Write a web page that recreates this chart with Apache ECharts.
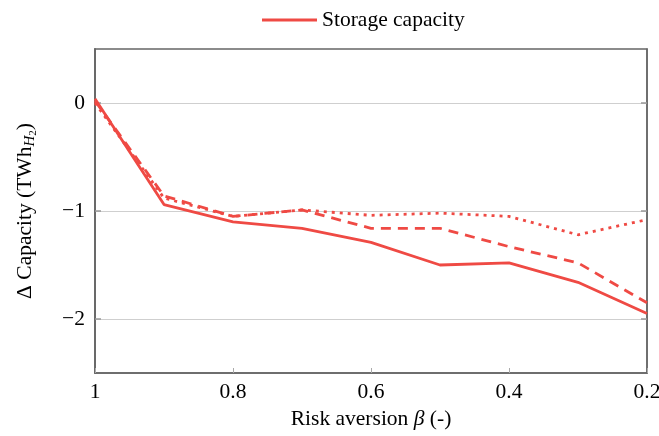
<!DOCTYPE html>
<html><head><meta charset="utf-8">
<script src="https://cdn.jsdelivr.net/npm/echarts@6/dist/echarts.min.js"></script>
<style>html,body{margin:0;padding:0;background:#fff}#c{width:659px;height:436px}</style>
</head><body><div id="c"></div>
<script>
const beta = [1, 0.9, 0.8, 0.7, 0.6, 0.5, 0.4, 0.3, 0.2];
const solid = [0.04, -0.94, -1.10, -1.16, -1.29, -1.50, -1.48, -1.66, -1.95];
const dashed = [0.02, -0.86, -1.05, -0.99, -1.16, -1.16, -1.33, -1.48, -1.85];
const dotted = [0.00, -0.88, -1.05, -0.99, -1.04, -1.02, -1.05, -1.22, -1.08];
const xTicks = [1, 0.8, 0.6, 0.4, 0.2];
const yTicks = [0, -1, -2];
const red = '#ef4a44';
const font = '"Liberation Serif", "DejaVu Serif", serif';
const pair = (a) => beta.map((b, i) => [b, a[i]]);
const chart = echarts.init(document.getElementById('c'));
const fmtY = v => { const r = Math.round(v*100)/100; return yTicks.includes(r) ? (r < 0 ? '\u2212' + (-r) : String(r)) : ''; };
const fmtX = v => { const r = Math.round(v*100)/100; return xTicks.includes(r) ? String(r) : ''; };
const FS = 21.5;
chart.setOption({
  animation: false,
  textStyle: {fontFamily: font},
  legend: {
    top: 4, left: 257, data: ['Storage capacity'],
    icon: 'rect', itemWidth: 55, itemHeight: 3, itemGap: 8,
    textStyle: {fontFamily: font, fontSize: FS, color: '#000'}
  },
  grid: {left: 95, right: 12, top: 49, bottom: 63, show: true, borderColor: '#666', borderWidth: 1.5, containLabel: false, outerBoundsMode: 'none'},
  xAxis: [{
    type: 'value', inverse: true, min: 0.2, max: 1, interval: 0.2,
    axisLine: {show: true, onZero: false, lineStyle: {color: '#666', width: 1.5}},
    axisTick: {show: true, inside: true, length: 5, lineStyle: {color: '#aaa'}},
    axisLabel: {formatter: fmtX, fontFamily: font, fontSize: FS, color: '#000', margin: 8},
    splitLine: {show: false},
    name: '{n|Risk aversion }{i|\u03b2}{n| (-)}', nameLocation: 'middle', nameGap: 33,
    nameTextStyle: {rich: {n: {fontFamily: font, fontSize: FS, color: '#000'}, i: {fontFamily: font, fontSize: FS, fontStyle: 'italic', color: '#000'}}}
  }],
  yAxis: [{
    type: 'value', min: -2.5, max: 0.5, interval: 0.5,
    axisLine: {show: true, onZero: false, lineStyle: {color: '#666', width: 1.8}},
    axisTick: {show: true, inside: true, length: 6, customValues: yTicks, lineStyle: {color: '#999', width: 1.5}},
    axisLabel: {formatter: fmtY, fontFamily: font, fontSize: FS, color: '#000', margin: 10},
    splitLine: {show: true, lineStyle: {color: '#cfcfcf', width: 1.2}},
    name: '{n|\u0394 Capacity (TWh}{i|H}{s|2}{n|)}', nameLocation: 'middle', nameGap: 56, nameRotate: 90,
    nameTextStyle: {rich: {
      n: {fontFamily: font, fontSize: FS, color: '#000'},
      i: {fontFamily: font, fontSize: 15, fontStyle: 'italic', color: '#000', padding: [10, 0, 0, 0]},
      s: {fontFamily: font, fontSize: 11, color: '#000', padding: [17, 0, 0, 0]}
    }}
  }, {
    type: 'value', position: 'right', min: -2.5, max: 0.5, interval: 0.5,
    axisLine: {show: true, onZero: false, lineStyle: {color: '#666', width: 1.5}},
    axisTick: {show: true, inside: true, length: 6, customValues: yTicks, lineStyle: {color: '#999', width: 1.5}},
    axisLabel: {show: false},
    splitLine: {show: false}
  }],
  series: [
    {name: 'Storage capacity', type: 'line', data: pair(solid), showSymbol: false, lineStyle: {color: red, width: 2.8}, itemStyle: {color: red}},
    {name: 'dashed', type: 'line', data: pair(dashed), showSymbol: false, lineStyle: {color: red, width: 2.8, type: [10, 7]}, itemStyle: {color: red}},
    {name: 'dotted', type: 'line', data: pair(dotted), showSymbol: false, lineStyle: {color: red, width: 2.8, type: [3, 5]}, itemStyle: {color: red}}
  ]
});
</script></body></html>
